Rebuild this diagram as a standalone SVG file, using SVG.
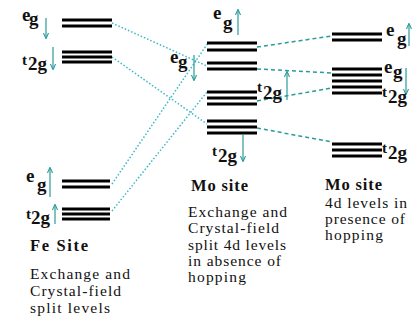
<svg xmlns="http://www.w3.org/2000/svg" width="412" height="322" viewBox="0 0 412 322">
<style>
.lb{font-weight:bold;font-size:19px;fill:#111}
.sm{font-weight:bold;font-size:15px;fill:#111}
.tx{font-size:15.5px;fill:#111}
.hd{font-weight:bold;font-size:16.5px;fill:#111}
.bar{stroke:#000;stroke-width:3;fill:none}
.dot{stroke:#3cb8c6;stroke-width:1.5;stroke-dasharray:1.5 2;fill:none}
.dash{stroke:#2a9a9a;stroke-width:1.5;stroke-dasharray:4 3;fill:none}
.ar{stroke:#2a9a9a;stroke-width:1.2;fill:none;marker-end:url(#ah)}
</style>
<defs>
<marker id="ah" viewBox="0 0 8 8" refX="7" refY="4" markerWidth="5" markerHeight="5" orient="auto">
<path d="M0,0.5 L8,4 L0,7.5" fill="none" stroke="#2a9a9a" stroke-width="1.4"/>
</marker>
</defs>
<rect width="412" height="322" fill="#fff"/>
<g id="connectors">
<line class="dot" x1="112" y1="23" x2="207" y2="66"/>
<line class="dot" x1="112" y1="57" x2="207" y2="124"/>
<line class="dot" x1="112" y1="184" x2="208" y2="43"/>
<line class="dot" x1="112" y1="211" x2="207" y2="92"/>
<line class="dash" x1="257" y1="47" x2="332" y2="36"/>
<line class="dash" x1="257" y1="69" x2="332" y2="73"/>
<line class="dash" x1="257" y1="101" x2="332" y2="88"/>
<line class="dash" x1="257" y1="128" x2="332" y2="142"/>
</g>
<g font-family="Liberation Serif, serif">
<g id="fe-eg-down">
<path class="bar" d="M62,20H112M62,26H112"/>
<text class="lb" x="22" y="21">e</text><text class="lb" x="29" y="25">g</text>
<line class="ar" x1="46" y1="18" x2="46" y2="38"/>
</g>
<g id="fe-t2g-down">
<path class="bar" d="M62,52H112M62,57H112M62,62H112"/>
<text class="sm" x="22" y="65">t</text><text class="lb" x="28" y="70">2g</text>
<line class="ar" x1="53" y1="47" x2="53" y2="69"/>
</g>
<g id="fe-eg-up">
<path class="bar" d="M62,181H110M62,187H110"/>
<text class="lb" x="26" y="182">e</text><text class="lb" x="37" y="191">g</text>
<line class="ar" x1="50" y1="197" x2="50" y2="168"/>
</g>
<g id="fe-t2g-up">
<path class="bar" d="M62,209H110M62,214H110M62,219H110"/>
<text class="sm" x="26" y="219">t</text><text class="lb" x="31" y="224">2g</text>
<line class="ar" x1="55" y1="224" x2="55" y2="205"/>
</g>
<g id="fe-label">
<text class="hd" x="30" y="251" textLength="58">Fe Site</text>
<text class="tx" x="30" y="279" textLength="100">Exchange and</text>
<text class="tx" x="30" y="296" textLength="91">Crystal-field</text>
<text class="tx" x="30" y="313" textLength="80">split levels</text>
</g>
<g id="mo-eg-up">
<path class="bar" d="M207,43H257M207,50H257"/>
<text class="lb" x="213" y="19">e</text><text class="lb" x="223" y="29">g</text>
<line class="ar" x1="238" y1="35" x2="238" y2="10"/>
</g>
<g id="mo-eg-down">
<path class="bar" d="M207,63H257M207,69H257"/>
<text class="lb" x="170" y="63">e</text><text class="lb" x="178" y="68">g</text>
<line class="ar" x1="194" y1="55" x2="194" y2="80"/>
</g>
<g id="mo-t2g-up">
<path class="bar" d="M207,92H257M207,98H257M207,104H257"/>
<text class="sm" x="257" y="92">t</text><text class="lb" x="263" y="99">2g</text>
<line class="ar" x1="287" y1="100" x2="287" y2="72"/>
</g>
<g id="mo-t2g-down">
<path class="bar" d="M207,121H257M207,127H257M207,133H257"/>
<text class="sm" x="212" y="156">t</text><text class="lb" x="218" y="162">2g</text>
<line class="ar" x1="243" y1="134" x2="243" y2="161"/>
</g>
<g id="mo-label">
<text class="hd" x="191" y="191" textLength="57">Mo site</text>
<text class="tx" x="188" y="217" textLength="99">Exchange and</text>
<text class="tx" x="188" y="233" textLength="91">Crystal-field</text>
<text class="tx" x="188" y="250" textLength="98">split 4d levels</text>
<text class="tx" x="188" y="266" textLength="93">in absence of</text>
<text class="tx" x="188" y="282" textLength="58">hopping</text>
</g>
<g id="r-eg-up">
<path class="bar" d="M332,34H382M332,40H382"/>
<text class="lb" x="386" y="36">e</text><text class="lb" x="397" y="45">g</text>
<line class="ar" x1="409" y1="46" x2="409" y2="24"/>
</g>
<g id="r-mid">
<path class="bar" d="M332,69H382M332,75H382M332,81H382M332,87H382M332,93H382"/>
<text class="lb" x="384" y="73">e</text><text class="lb" x="393" y="78">g</text>
<line class="ar" x1="406" y1="68" x2="406" y2="94"/>
<text class="sm" x="382" y="97">t</text><text class="lb" x="388" y="103">2g</text>
</g>
<g id="r-t2g-bottom">
<path class="bar" d="M332,144H382M332,150H382M332,156H382"/>
<text class="sm" x="382" y="153">t</text><text class="lb" x="388" y="159">2g</text>
</g>
<g id="r-label">
<text class="hd" x="325" y="190" textLength="57">Mo site</text>
<text class="tx" x="325" y="208" textLength="82">4d levels in</text>
<text class="tx" x="325" y="224" textLength="80">presence of</text>
<text class="tx" x="325" y="240" textLength="58">hopping</text>
</g>
</g>
</svg>
